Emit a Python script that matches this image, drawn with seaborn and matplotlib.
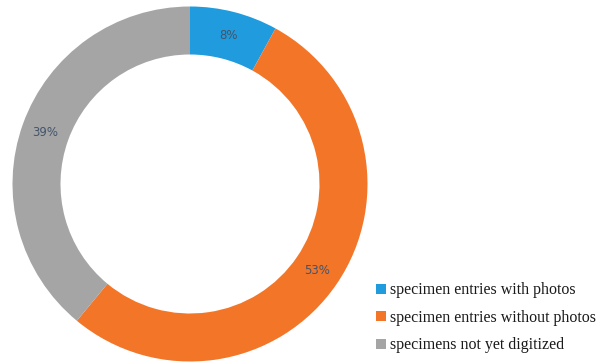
import matplotlib
matplotlib.use("Agg")
import matplotlib.pyplot as plt
import seaborn as sns
import numpy as np

categories = ["specimen entries with photos", "specimen entries without photos", "specimens not yet digitized"]
values = [8, 53, 39]
colors = ["#1f9bde", "#f37528", "#a5a5a5"]
labels = ["8%", "53%", "39%"]

sns.set_style("white")

W, H = 616, 364
fig = plt.figure(figsize=(W / 100, H / 100), dpi=100)
cx, cy, R = 190, 184, 177.5
ax = fig.add_axes([(cx - R) / W, (H - cy - R) / H, 2 * R / W, 2 * R / H])
ring = 48 / R
wedges, _ = ax.pie(values, colors=colors, startangle=90, counterclock=False,
                   radius=1, wedgeprops=dict(width=ring, edgecolor="none", linewidth=0))
ax.set_xlim(-1, 1)
ax.set_ylim(-1, 1)
ax.set_aspect("equal")
ax.axis("off")

# percentage labels at ring midline
total = sum(values)
start = 0.0
rmid = 1 - ring / 2
for v, lab in zip(values, labels):
    mid = (start + v / 2) / total * 2 * np.pi
    x = rmid * np.sin(mid)
    y = rmid * np.cos(mid)
    ax.text(x, y, lab, ha="center", va="center", fontsize=8.5,
            color="#44546a", family="DejaVu Sans")
    start += v

leg = fig.legend(wedges, categories, loc="upper left",
                 bbox_to_anchor=(362 / W, 1 - 268 / H),
                 frameon=False, handlelength=0.6, handleheight=0.6,
                 handletextpad=0.25, labelspacing=0.72,
                 prop={"family": "Liberation Serif", "size": 11.5})
for t in leg.get_texts():
    t.set_color("#1a1a1a")

fig.savefig("out.png", dpi=100)
